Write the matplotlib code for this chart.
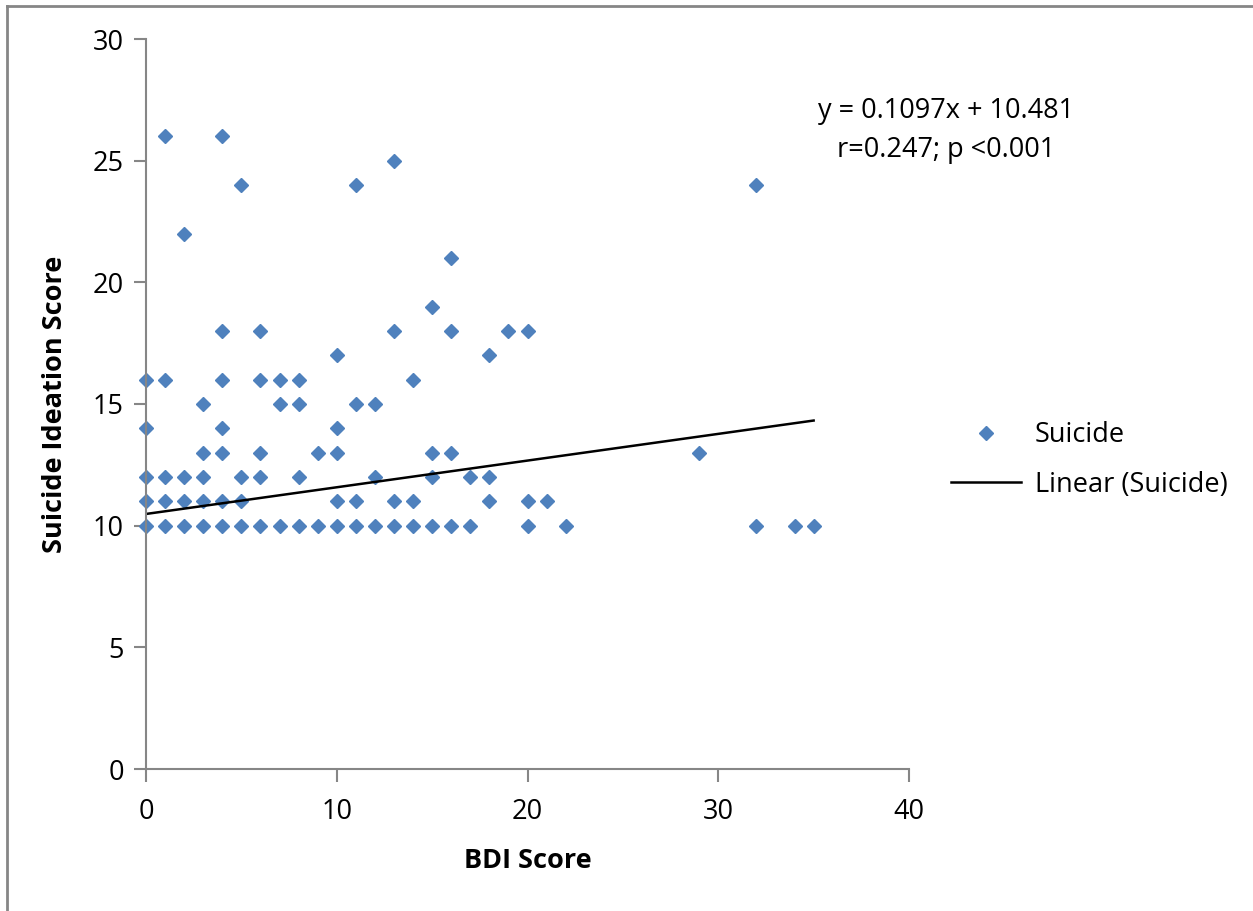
import matplotlib
matplotlib.use("Agg")
import matplotlib.pyplot as plt
from matplotlib.lines import Line2D

plt.rcParams['font.family'] = ['Open Sans', 'DejaVu Sans']

# BDI score -> suicide ideation scores at that BDI value
bdi = [0, 0, 0, 0, 0,
       1, 1, 1, 1, 1,
       2, 2, 2, 2,
       3, 3, 3, 3, 3,
       4, 4, 4, 4, 4, 4, 4,
       5, 5, 5, 5,
       6, 6, 6, 6, 6,
       7, 7, 7,
       8, 8, 8, 8,
       9, 9,
       10, 10, 10, 10, 10,
       11, 11, 11, 11,
       12, 12, 12,
       13, 13, 13, 13,
       14, 14, 14,
       15, 15, 15, 15,
       16, 16, 16, 16,
       17, 17,
       18, 18, 18,
       19,
       20, 20, 20,
       21, 22, 29, 32, 32, 34, 35]
suicide = [10, 11, 12, 14, 16,
           10, 11, 12, 16, 26,
           10, 11, 12, 22,
           10, 11, 12, 13, 15,
           10, 11, 13, 14, 16, 18, 26,
           10, 11, 12, 24,
           10, 12, 13, 16, 18,
           10, 15, 16,
           10, 12, 15, 16,
           10, 13,
           10, 11, 13, 14, 17,
           10, 11, 15, 24,
           10, 12, 15,
           10, 11, 18, 25,
           10, 11, 16,
           10, 12, 13, 19,
           10, 13, 18, 21,
           10, 12,
           11, 12, 17,
           18,
           10, 11, 18,
           11, 10, 13, 10, 24, 10, 10]

slope, intercept = 0.1097, 10.481
trend_x = [0, 35]
trend_y = [slope * x + intercept for x in trend_x]

x_ticks = [0, 10, 20, 30, 40]
y_ticks = [0, 5, 10, 15, 20, 25, 30]

blue = '#4F81BD'
gray = '#868686'
fs = 19.5

fig = plt.figure(figsize=(12.53, 9.11), dpi=100)
ax = fig.add_axes([146 / 1253, 1 - 769 / 911, (909 - 146) / 1253, (769 - 39) / 911])

ax.plot(bdi, suicide, linestyle='none', marker='D', markersize=7.5,
        color=blue, label='Suicide', clip_on=False)
ax.plot(trend_x, trend_y, color='black', linewidth=1.8, label='Linear (Suicide)')

ax.set_xlim(0, 40)
ax.set_ylim(0, 30)
ax.set_xticks(x_ticks)
ax.set_yticks(y_ticks)

for s in ['top', 'right']:
    ax.spines[s].set_visible(False)
for s in ['left', 'bottom']:
    ax.spines[s].set_color(gray)
    ax.spines[s].set_linewidth(1.5)
ax.tick_params(axis='both', direction='out', length=9, width=1.5, color=gray,
               labelsize=fs, labelcolor='black')
ax.tick_params(axis='y', pad=7)
ax.tick_params(axis='x', pad=12)

ax.set_xlabel('BDI Score', fontsize=fs, fontweight='bold', labelpad=16)
ax.set_ylabel('Suicide Ideation Score', fontsize=fs, fontweight='bold', labelpad=18)

fig.text(946 / 1253, 1 - 111 / 911, 'y = 0.1097x + 10.481', fontsize=fs,
         ha='center', va='center')
fig.text(946 / 1253, 1 - 150 / 911, 'r=0.247; p <0.001', fontsize=fs,
         ha='center', va='center')

ax.legend(loc='center left', bbox_to_anchor=(940 / 1253, 1 - 460 / 911),
          bbox_transform=fig.transFigure, frameon=False, fontsize=fs,
          borderaxespad=0, handlelength=2.6, handletextpad=0.5, labelspacing=0.8)

# outer chart border (top and left visible)
fig.add_artist(Line2D([7 / 1253, 1], [1 - 6 / 911, 1 - 6 / 911],
                      transform=fig.transFigure, color=gray, linewidth=2))
fig.add_artist(Line2D([7 / 1253, 7 / 1253], [0, 1 - 6 / 911],
                      transform=fig.transFigure, color=gray, linewidth=2))

fig.savefig('out.png', dpi=100)
